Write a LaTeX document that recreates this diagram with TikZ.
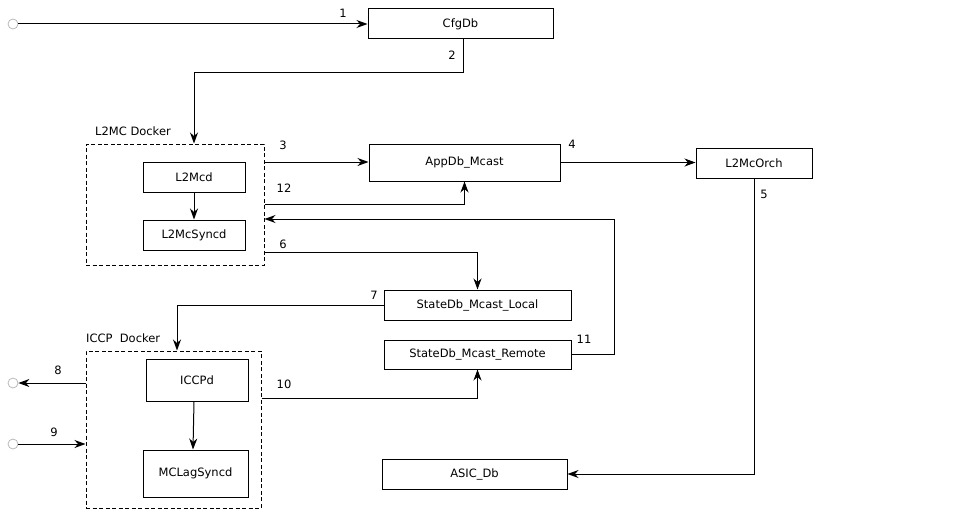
\documentclass[tikz,border=0pt]{standalone}
\usepackage{fontspec}
\setmainfont{DejaVu Sans}
\usetikzlibrary{arrows.meta}
\begin{document}
\begin{tikzpicture}[x=1pt,y=-1pt,
  every node/.style={font=\fontsize{11.5}{13}\selectfont},
  box/.style={draw,line width=1pt,rectangle,inner sep=0pt},
  dock/.style={draw,line width=1pt,dashed,dash pattern=on 4pt off 2.5pt,rectangle,inner sep=0pt},
  term/.style={draw=gray!55,fill=white,circle,minimum size=10pt,inner sep=0pt,line width=0.8pt},
  arr/.style={line width=1pt,-{Stealth[length=11pt,width=8pt,inset=3.5pt]}},
  lbl/.style={inner sep=0pt}]
\useasboundingbox (0,0) rectangle (976,511);
% nodes
\node[term] (c1) at (13,24) {};
\node[term] (c8) at (13,383) {};
\node[term] (c9) at (13,444) {};
\node[box,minimum width=185pt,minimum height=30pt] (cfg) at (460.5,24) {CfgDb};
\node[dock,minimum width=178pt,minimum height=121pt] (l2dock) at (175,204.5) {};
\node[lbl,anchor=south west] (l2docklbl) at (95,136) {L2MC Docker};
\node[box,minimum width=102pt,minimum height=30pt] (l2mcd) at (194,177) {L2Mcd};
\node[box,minimum width=102pt,minimum height=30pt] (l2mcs) at (194,235) {L2McSyncd};
\node[box,minimum width=191pt,minimum height=37pt] (app) at (464.5,162.5) {AppDb\_Mcast};
\node[box,minimum width=116pt,minimum height=30pt] (orch) at (754,163) {L2McOrch};
\node[box,minimum width=187pt,minimum height=30pt] (sl) at (477.5,305) {StateDb\_Mcast\_Local};
\node[box,minimum width=187pt,minimum height=29pt] (sr) at (477.5,354.5) {StateDb\_Mcast\_Remote};
\node[dock,minimum width=175pt,minimum height=157pt] (icdock) at (173.5,429.5) {};
\node[lbl,anchor=south west] (icdocklbl) at (86,343) {ICCP\ \ Docker};
\node[box,minimum width=102pt,minimum height=42pt] (iccpd) at (197,380) {ICCPd};
\node[box,minimum width=105pt,minimum height=47pt] (mclag) at (195.5,473.5) {MCLagSyncd};
\node[box,minimum width=185pt,minimum height=30pt] (asic) at (474.5,474) {ASIC\_Db};
% connectors
\draw[arr] (c1) -- (cfg.west);
\draw[arr] (cfg.south -| 463,0) -- (463,72) -| (l2mcd.north |- l2dock.north);
\draw[arr] (l2mcd) -- (l2mcs);
\draw[arr] (l2dock.east |- 0,162) -- (app.west |- 0,162);
\draw[arr] (app.east) -- (app.east -| orch.west);
\draw[arr] (orch.south) |- (asic.east);
\draw[arr] (l2dock.east |- 0,204) -| (app.south);
\draw[arr] (sr.east) -- (614,354.5) |- (l2dock.east |- 0,219);
\draw[arr] (l2dock.east |- 0,252) -| (sl.north);
\draw[arr] (sl.west) -| ([xshift=3.5pt]icdock.north);
\draw[arr] (icdock.west |- c8) -- (c8);
\draw[arr] (c9) -- (icdock.west |- c9);
\draw[arr] (icdock.east |- 0,398) -| (sr.south);
\draw[arr] (iccpd.south -| 194,0) -- (mclag.north -| 193,0);
% labels
\node (n1) at (343,13) {1};
\node (n2) at (452,55) {2};
\node (n3) at (283,145) {3};
\node (n4) at (572,144) {4};
\node (n5) at (764,194) {5};
\node (n6) at (283,244) {6};
\node (n7) at (374,295) {7};
\node (n8) at (58,370) {8};
\node (n9) at (54,432) {9};
\node (n10) at (284,384) {10};
\node (n11) at (584,339) {11};
\node (n12) at (284,188) {12};
\end{tikzpicture}
\end{document}
